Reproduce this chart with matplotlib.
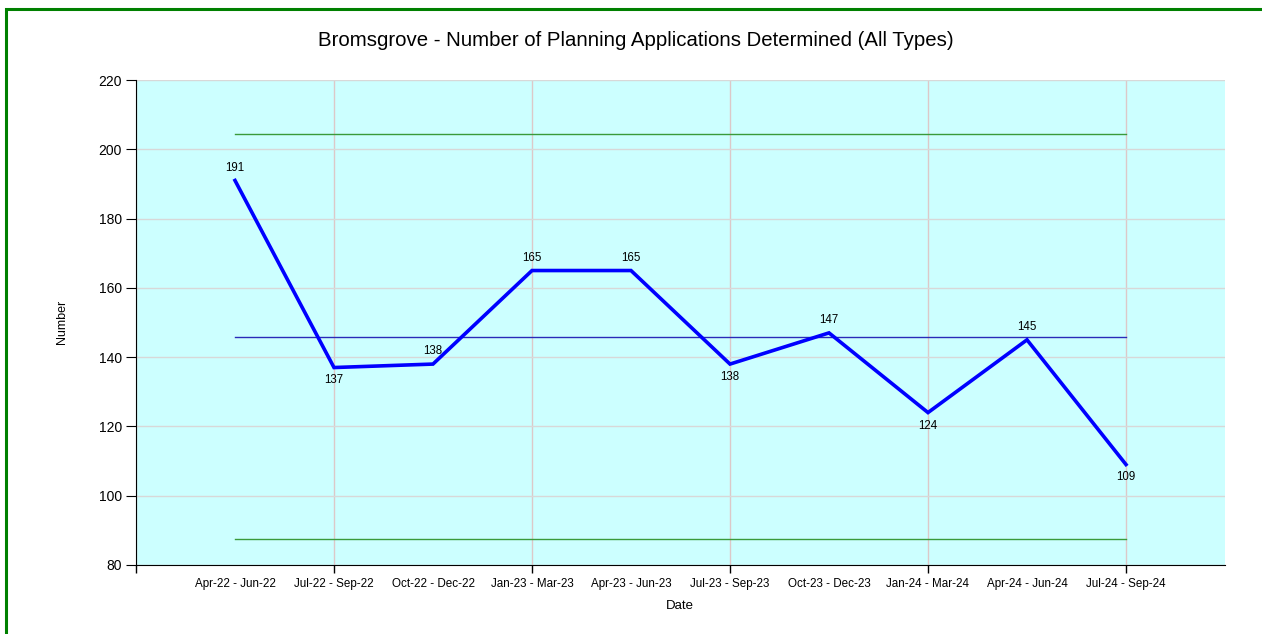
import matplotlib.pyplot as plt
from matplotlib.patches import Rectangle

plt.rcParams['font.family'] = ['Liberation Sans', 'DejaVu Sans']

# Data
periods = ['Apr-22 - Jun-22', 'Jul-22 - Sep-22', 'Oct-22 - Dec-22', 'Jan-23 - Mar-23',
           'Apr-23 - Jun-23', 'Jul-23 - Sep-23', 'Oct-23 - Dec-23', 'Jan-24 - Mar-24',
           'Apr-24 - Jun-24', 'Jul-24 - Sep-24']
determined = [191, 137, 138, 165, 165, 138, 147, 124, 145, 109]
label_above = [True, False, True, True, True, False, True, False, True, False]
mean_value = 145.9
upper_limit = 204.4
lower_limit = 87.4
y_ticks = [80, 100, 120, 140, 160, 180, 200, 220]

W, H = 1262, 634
fig = plt.figure(figsize=(W / 100, H / 100), dpi=100)
ax = fig.add_axes([136 / W, 1 - 565 / H, (1225 - 136) / W, (565 - 80) / H])
ax.set_facecolor('#CCFFFF')

x = list(range(1, len(periods) + 1))

# grid + limits
ax.set_xlim(0, 11)
ax.set_ylim(80, 220)
ax.set_yticks(y_ticks)
ax.xaxis.remove_overlapping_locs = False
ax.set_xticks(range(0, 11, 2))
ax.set_xticklabels([])
ax.set_xticks(x, minor=True)
ax.set_xticklabels(periods, minor=True, fontsize=8.4, va='baseline')
ax.tick_params(axis='x', which='minor', length=0, pad=16)
ax.tick_params(axis='x', which='major', length=6, width=1)
ax.tick_params(axis='y', length=7, labelsize=10, pad=3)
ax.yaxis.grid(True, color='#D8D8D8', linewidth=1)
ax.xaxis.grid(True, which='major', color='#DCC8C8', linewidth=1)
ax.set_axisbelow(True)
for s in ['top', 'right']:
    ax.spines[s].set_visible(False)

# control lines
ax.plot([x[0], x[-1]], [upper_limit, upper_limit], color='#3A9A3A', linewidth=1)
ax.plot([x[0], x[-1]], [lower_limit, lower_limit], color='#3A9A3A', linewidth=1)
ax.plot([x[0], x[-1]], [mean_value, mean_value], color='#2A2AB8', linewidth=1)

# main series
ax.plot(x, determined, color='#0000FF', linewidth=2.6, solid_joinstyle='miter')
for xi, v, up in zip(x, determined, label_above):
    ax.annotate(str(v), (xi, v), xytext=(0, 5 if up else -5), textcoords='offset points',
                ha='center', va='bottom' if up else 'top', fontsize=8.3)

fig.text(636 / W, 1 - 41 / H, 'Bromsgrove - Number of Planning Applications Determined (All Types)',
         ha='center', va='center', fontsize=14.7)
fig.text(62 / W, 1 - 322 / H, 'Number', rotation=90, ha='center', va='center', fontsize=9)
fig.text(680 / W, 1 - 606 / H, 'Date', ha='center', va='center', fontsize=9.5)

# green frame
fig.patches.append(Rectangle((5.5 / W, -0.1), 1.2, 1.1 - 9.5 / H, transform=fig.transFigure,
                             fill=False, edgecolor='#008000', linewidth=2.2))

fig.savefig('out.png', dpi=100)
